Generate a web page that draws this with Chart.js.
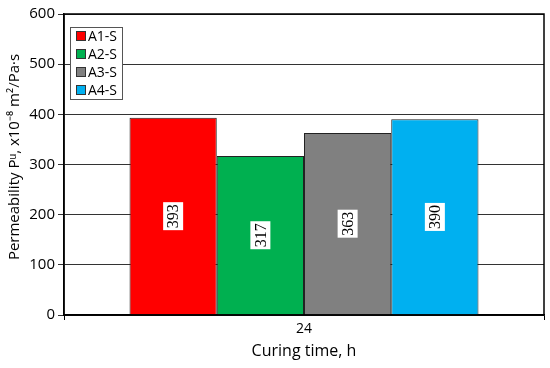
<!DOCTYPE html>
<html>
<head>
<meta charset="utf-8">
<script src="https://cdn.jsdelivr.net/npm/chart.js@4"></script>
<style>
  html, body { margin: 0; padding: 0; background: #fff; }
  #wrap { width: 550px; height: 368px; }
</style>
</head>
<body>
<div id="wrap"><canvas id="myChart" width="550" height="368"></canvas></div>
<script>
// chart data
const categories = ['24'];
const seriesNames = ['A1-S', 'A2-S', 'A3-S', 'A4-S'];
const seriesValues = [[393], [317], [363], [390]];
const seriesColors = ['#ff0000', '#00b050', '#808080', '#00b0f0'];
const yTicks = [0, 100, 200, 300, 400, 500, 600];

const sans = "'Open Sans', 'Liberation Sans', sans-serif";

// white boxes with rotated values inside each bar
const valueLabels = {
    id: 'valueLabels',
    afterDatasetsDraw(chart) {
        const ctx = chart.ctx;
        chart.data.datasets.forEach((ds, i) => {
            chart.getDatasetMeta(i).data.forEach((bar, j) => {
                const txt = String(ds.data[j]);
                const cy = (bar.y + bar.base) / 2;
                ctx.save();
                ctx.translate(bar.x, cy);
                ctx.rotate(-Math.PI / 2);
                ctx.font = "16px 'Liberation Serif', serif";
                const w = ctx.measureText(txt).width + 4;
                ctx.fillStyle = '#fff';
                ctx.fillRect(-w / 2, -10, w, 20);
                ctx.fillStyle = '#000';
                ctx.textAlign = 'center';
                ctx.textBaseline = 'middle';
                ctx.fillText(txt, 0, 1);
                ctx.restore();
            });
        });
    }
};

// plot frame, legend box and y axis title
const frameAndLegend = {
    id: 'frameAndLegend',
    afterDraw(chart) {
        const ctx = chart.ctx;
        const a = chart.chartArea;
        ctx.save();
        ctx.strokeStyle = '#000';
        ctx.lineWidth = 1.5;
        ctx.strokeRect(a.left, a.top, a.right - a.left, a.bottom - a.top);

        // legend
        const lx = 70, ly = 27, lw = 52, lh = 72;
        ctx.fillStyle = '#fff';
        ctx.fillRect(lx, ly, lw, lh);
        ctx.lineWidth = 1;
        ctx.strokeStyle = '#555';
        ctx.strokeRect(lx + 0.5, ly + 0.5, lw, lh);
        ctx.font = '14px ' + sans;
        ctx.textBaseline = 'middle';
        chart.data.datasets.forEach((ds, i) => {
            const y = 36 + i * 18;
            ctx.fillStyle = ds.backgroundColor;
            ctx.fillRect(76.5, y - 4.5, 9, 9);
            ctx.strokeStyle = '#333';
            ctx.strokeRect(76.5, y - 4.5, 9, 9);
            ctx.fillStyle = '#000';
            ctx.fillText(ds.label, 88, y + 1);
        });

        // y axis title, a little above the plot centre as in the original
        ctx.translate(15, 157);
        ctx.rotate(-Math.PI / 2);
        ctx.font = '15px ' + sans;
        ctx.textAlign = 'center';
        ctx.textBaseline = 'middle';
        ctx.fillText('Permeability P\u1d58, x10\u207b\u2078 m\u00b2/Pa\u00b7s', 0, 0);
        ctx.restore();
    }
};

const ctx = document.getElementById('myChart').getContext('2d');
new Chart(ctx, {
    type: 'bar',
    data: {
        labels: categories,
        datasets: seriesNames.map((name, i) => ({
            label: name,
            data: seriesValues[i],
            backgroundColor: seriesColors[i],
            borderColor: '#222',
            borderWidth: 1,
            categoryPercentage: 0.727,
            barPercentage: 1
        }))
    },
    options: {
        responsive: false,
        animation: false,
        layout: { padding: { top: 14, right: 6, left: 0, bottom: 0 } },
        plugins: {
            legend: { display: false },
            tooltip: { enabled: false }
        },
        scales: {
            x: {
                afterFit(scale) { scale.height = 53; },
                grid: {
                    drawOnChartArea: false,
                    color: '#000',
                    tickLength: 5
                },
                border: { color: '#000', width: 1.5 },
                ticks: { color: '#000', font: { family: sans, size: 14 }, padding: 1 },
                title: {
                    display: true,
                    text: 'Curing time, h',
                    color: '#000',
                    font: { family: sans, size: 16 },
                    padding: { top: 0, bottom: 7 }
                }
            },
            y: {
                min: 0,
                max: 600,
                afterFit(scale) { scale.width = 64; },
                afterBuildTicks(scale) { scale.ticks = yTicks.map(v => ({ value: v })); },
                grid: {
                    color: '#333',
                    lineWidth: 1,
                    tickLength: 6
                },
                border: { color: '#000', width: 1.5 },
                ticks: { color: '#000', font: { family: sans, size: 15 }, padding: 3 }
            }
        }
    },
    plugins: [valueLabels, frameAndLegend]
});
</script>
</body>
</html>
